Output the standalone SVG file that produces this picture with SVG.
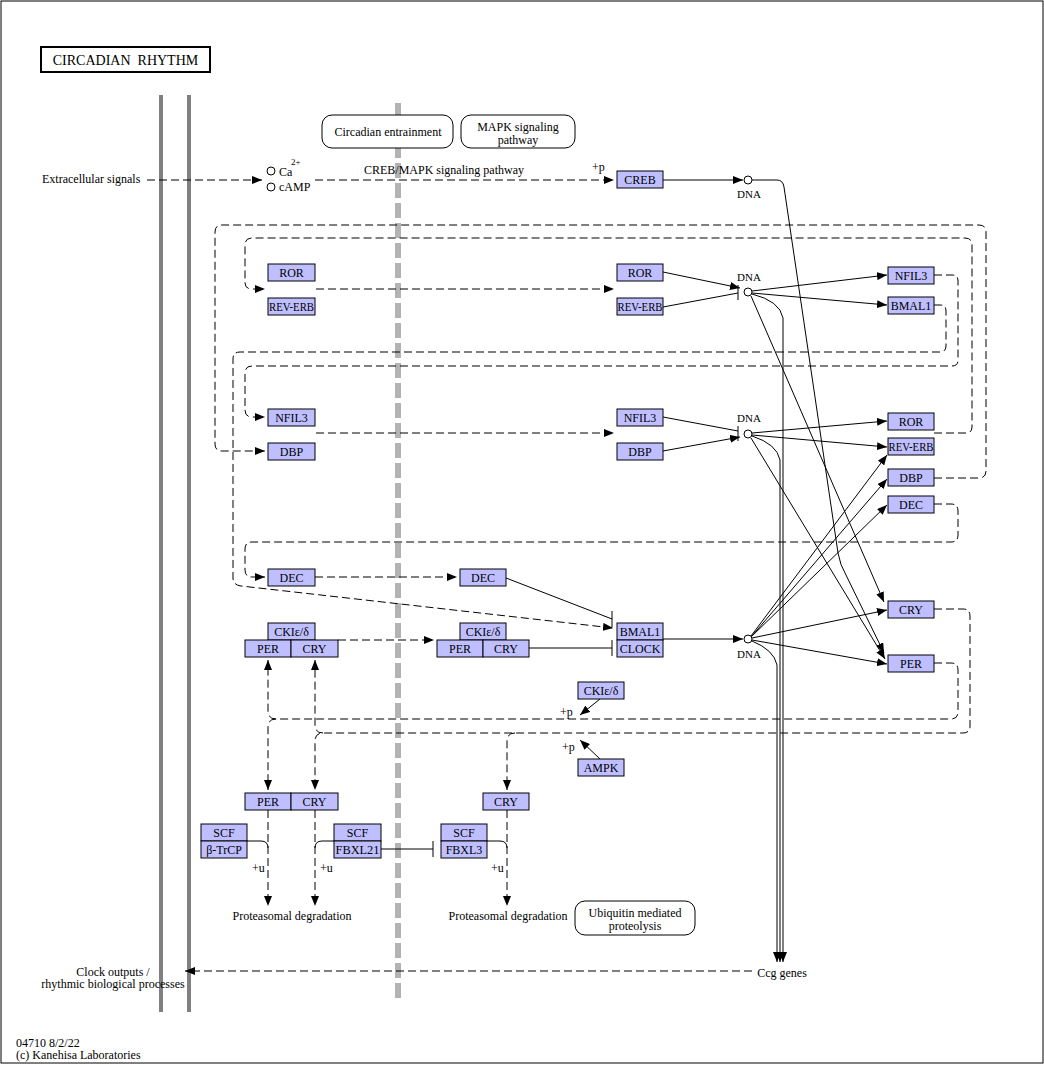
<svg xmlns="http://www.w3.org/2000/svg" width="1044" height="1065" viewBox="0 0 1044 1065">
<style>
.g{fill:#bfbfff;stroke:#000;stroke-width:1}
.t{font-family:"Liberation Serif","Times New Roman",serif;font-size:12px;text-anchor:middle;fill:#000}
.s{font-family:"Liberation Serif","Times New Roman",serif;font-size:12px;fill:#000}
.m{font-family:"Liberation Serif","Times New Roman",serif;font-size:11px;text-anchor:middle;fill:#000}
.l{fill:none;stroke:#000;stroke-width:1}
.d{fill:none;stroke:#000;stroke-width:1;stroke-dasharray:8 4}
.r{fill:#fff;stroke:#000;stroke-width:1}
.c{fill:#fff;stroke:#000;stroke-width:1}
</style>
<defs>
<marker id="a" viewBox="0 0 10 8" refX="10" refY="4" markerWidth="10" markerHeight="8" orient="auto" markerUnits="userSpaceOnUse"><path d="M0,0 L10,4 L0,8 z" fill="#000" stroke="none"/></marker>
</defs>
<rect x="0" y="0" width="1044" height="1065" fill="#fff"/>
<rect x="1" y="1" width="1042" height="1062" fill="none" stroke="#000" stroke-width="1"/>

<g id="title">
<rect x="41" y="47" width="169" height="25" fill="#fff" stroke="#000" stroke-width="2"/>
<text x="125.5" y="65" class="t" style="font-size:14px;white-space:pre">CIRCADIAN  RHYTHM</text>
</g>

<g id="membranes">
<rect x="159" y="95" width="4" height="917" fill="#808080"/>
<rect x="187" y="95" width="4" height="917" fill="#808080"/>
<line x1="398" y1="103" x2="398" y2="998" stroke="#b3b3b3" stroke-width="6" stroke-dasharray="15 5"/>
</g>

<g id="connectors">
<line x1="147" y1="180" x2="262" y2="180" class="d" marker-end="url(#a)"/>
<line x1="315" y1="180" x2="614" y2="180" class="d" marker-end="url(#a)"/>
<line x1="663" y1="180" x2="743" y2="180" class="l" marker-end="url(#a)"/>
<path d="M752,180 H777 Q783,180 784,187 L838,553 Q840,565 846,575 L884,653" class="l" marker-end="url(#a)"/>
<line x1="663" y1="272" x2="740" y2="288" class="l" marker-end="url(#a)"/>
<line x1="663" y1="307" x2="738" y2="293" class="l"/>
<line x1="738" y1="285" x2="738" y2="300" class="l"/>
<line x1="752" y1="291" x2="887" y2="275" class="l" marker-end="url(#a)"/>
<line x1="752" y1="293" x2="887" y2="305" class="l" marker-end="url(#a)"/>
<line x1="751" y1="296" x2="884" y2="602" class="l" marker-end="url(#a)"/>
<path d="M752,294 Q780,301 783,318 L783,962" class="l" marker-end="url(#a)"/>
<line x1="663" y1="417" x2="738" y2="431" class="l"/>
<line x1="738" y1="426" x2="738" y2="441" class="l"/>
<line x1="663" y1="451" x2="740" y2="437" class="l" marker-end="url(#a)"/>
<line x1="752" y1="433" x2="887" y2="421" class="l" marker-end="url(#a)"/>
<line x1="752" y1="435" x2="887" y2="447" class="l" marker-end="url(#a)"/>
<line x1="751" y1="438" x2="885" y2="659" class="l" marker-end="url(#a)"/>
<path d="M752,436 Q777,444 780,460 L780,962" class="l" marker-end="url(#a)"/>
<line x1="663" y1="639" x2="743" y2="639" class="l" marker-end="url(#a)"/>
<line x1="751" y1="636" x2="887" y2="455" class="l" marker-end="url(#a)"/>
<line x1="751" y1="637" x2="887" y2="479" class="l" marker-end="url(#a)"/>
<line x1="751" y1="637" x2="887" y2="505" class="l" marker-end="url(#a)"/>
<line x1="752" y1="638" x2="887" y2="610" class="l" marker-end="url(#a)"/>
<line x1="752" y1="640" x2="887" y2="664" class="l" marker-end="url(#a)"/>
<path d="M752,641 Q774,650 777,665 L777,962" class="l" marker-end="url(#a)"/>
<line x1="316" y1="289" x2="614" y2="289" class="d" marker-end="url(#a)"/>
<line x1="316" y1="433" x2="614" y2="433" class="d" marker-end="url(#a)"/>
<line x1="315" y1="577" x2="457" y2="577" class="d" marker-end="url(#a)"/>
<line x1="338" y1="640" x2="434" y2="640" class="d" marker-end="url(#a)"/>
<line x1="506" y1="578" x2="612" y2="619" class="l"/>
<line x1="612" y1="611" x2="612" y2="627" class="l"/>
<line x1="529" y1="648" x2="612" y2="648" class="l"/>
<line x1="612" y1="640" x2="612" y2="656" class="l"/>
<path d="M934,305 H940 Q946,305 946,311 V346 Q946,352 940,352 H240 Q233,352 233,359 V578 Q233,585 241,586 L613,628" class="d" marker-end="url(#a)"/>
<path d="M934,275 H952 Q958,275 958,281 V360 Q958,366 952,366 H252 Q245,366 245,373 V410 Q245,417 252,417 L265,417" class="d" marker-end="url(#a)"/>
<path d="M934,433 H966 Q972,433 972,427 V245 Q972,238 965,238 H252 Q245,238 245,245 V283 Q245,289 252,289 L265,289" class="d" marker-end="url(#a)"/>
<path d="M934,478 H979 Q986,478 986,471 V232 Q986,225 979,225 H222 Q215,225 215,232 V444 Q215,451 222,451 L265,451" class="d" marker-end="url(#a)"/>
<path d="M934,504 H951 Q958,504 958,511 V535 Q958,542 951,542 H252 Q245,542 245,549 V570 Q245,577 252,577 L265,577" class="d" marker-end="url(#a)"/>
<path d="M934,609 H963 Q970,609 970,616 V726 Q970,733 963,733 H323 Q315,733 315,741 V790" class="d" marker-end="url(#a)"/>
<path d="M323,733 Q315,733 315,725 V660" class="d" marker-end="url(#a)"/>
<path d="M515,733 Q507,733 507,741 V790" class="d" marker-end="url(#a)"/>
<path d="M934,663 H951 Q958,663 958,670 V712 Q958,719 951,719 H276 Q268,719 268,727 V790" class="d" marker-end="url(#a)"/>
<path d="M276,719 Q268,719 268,711 V660" class="d" marker-end="url(#a)"/>
<line x1="600" y1="699" x2="580" y2="715" class="l" marker-end="url(#a)"/>
<line x1="600" y1="759" x2="580" y2="740" class="l" marker-end="url(#a)"/>
<line x1="268" y1="810" x2="268" y2="906" class="d" marker-end="url(#a)"/>
<line x1="315" y1="810" x2="315" y2="906" class="d" marker-end="url(#a)"/>
<line x1="507" y1="810" x2="507" y2="906" class="d" marker-end="url(#a)"/>
<path d="M247,841 H261 Q268,841 268,848" class="l"/>
<path d="M334,841 H322 Q315,841 315,848" class="l"/>
<path d="M487,841 H500 Q507,841 507,848" class="l"/>
<line x1="381" y1="849" x2="433" y2="849" class="l"/>
<line x1="433" y1="841" x2="433" y2="857" class="l"/>
<line x1="752" y1="971" x2="185" y2="971" class="d" marker-end="url(#a)"/>
</g>

<g id="map-links">
<g id="circadian-entrainment"><rect x="322" y="115" width="131" height="33" rx="10" class="r"/><text x="388" y="136" class="t">Circadian entrainment</text></g>
<g id="mapk"><rect x="461" y="115" width="114" height="33" rx="10" class="r"/><text x="518" y="131" class="t">MAPK signaling</text><text x="518" y="144" class="t">pathway</text></g>
<g id="ubiquitin"><rect x="575" y="901" width="120" height="34" rx="10" class="r"/><text x="635" y="917" class="t">Ubiquitin mediated</text><text x="635" y="930" class="t">proteolysis</text></g>
</g>

<g id="compounds">
<circle cx="271" cy="171" r="4" class="c"/>
<text x="279" y="176" class="s">Ca</text><text x="291" y="165" class="s" style="font-size:9px">2+</text>
<circle cx="271" cy="187" r="4" class="c"/>
<text x="279" y="191" class="s">cAMP</text>
</g>

<g id="dna">
<g id="dna1"><circle cx="748" cy="180" r="4" class="c"/><text x="749" y="198" class="m">DNA</text></g>
<g id="dna2"><circle cx="748" cy="292" r="4" class="c"/><text x="749" y="281" class="m">DNA</text></g>
<g id="dna3"><circle cx="748" cy="434" r="4" class="c"/><text x="749" y="422" class="m">DNA</text></g>
<g id="dna4"><circle cx="748" cy="639" r="4" class="c"/><text x="749" y="658" class="m">DNA</text></g>
</g>

<g id="labels">
<text x="42" y="183" class="s">Extracellular signals</text>
<text x="444" y="174" class="t">CREB/MAPK signaling pathway</text>
<text x="592" y="171" class="s">+p</text>
<text x="560" y="716" class="s">+p</text>
<text x="562" y="751" class="s">+p</text>
<text x="252" y="872" class="s">+u</text>
<text x="320" y="872" class="s">+u</text>
<text x="491" y="872" class="s">+u</text>
<text x="292" y="920" class="t">Proteasomal degradation</text>
<text x="508" y="920" class="t">Proteasomal degradation</text>
<text x="782" y="977" class="t">Ccg genes</text>
<text x="113" y="976" class="t">Clock outputs /</text>
<text x="113" y="988" class="t">rhythmic biological processes</text>
<text x="16" y="1047" class="s">04710 8/2/22</text>
<text x="16" y="1059" class="s">(c) Kanehisa Laboratories</text>
</g>

<g id="creb"><rect x="617" y="171" width="46" height="17" class="g"/><text x="640" y="184" class="t">CREB</text></g>
<g id="ror-l"><rect x="268" y="264" width="47" height="17" class="g"/><text x="291.5" y="277" class="t">ROR</text></g>
<g id="reverb-l"><rect x="268" y="298" width="47" height="17" class="g"/><text x="291.5" y="311" class="t" textLength="45" lengthAdjust="spacingAndGlyphs">REV-ERB</text></g>
<g id="ror-m"><rect x="617" y="264" width="46" height="17" class="g"/><text x="640" y="277" class="t">ROR</text></g>
<g id="reverb-m"><rect x="617" y="298" width="46" height="17" class="g"/><text x="640" y="311" class="t" textLength="45" lengthAdjust="spacingAndGlyphs">REV-ERB</text></g>
<g id="nfil3-r"><rect x="888" y="267" width="46" height="17" class="g"/><text x="911" y="280" class="t">NFIL3</text></g>
<g id="bmal1-r"><rect x="888" y="297" width="46" height="17" class="g"/><text x="911" y="310" class="t">BMAL1</text></g>
<g id="nfil3-l"><rect x="268" y="409" width="47" height="17" class="g"/><text x="291.5" y="422" class="t">NFIL3</text></g>
<g id="dbp-l"><rect x="268" y="443" width="47" height="17" class="g"/><text x="291.5" y="456" class="t">DBP</text></g>
<g id="nfil3-m"><rect x="617" y="409" width="46" height="17" class="g"/><text x="640" y="422" class="t">NFIL3</text></g>
<g id="dbp-m"><rect x="617" y="443" width="46" height="17" class="g"/><text x="640" y="456" class="t">DBP</text></g>
<g id="ror-r"><rect x="888" y="413" width="46" height="17" class="g"/><text x="911" y="426" class="t">ROR</text></g>
<g id="reverb-r"><rect x="888" y="438" width="46" height="17" class="g"/><text x="911" y="451" class="t" textLength="45" lengthAdjust="spacingAndGlyphs">REV-ERB</text></g>
<g id="dbp-r"><rect x="888" y="469" width="46" height="17" class="g"/><text x="911" y="482" class="t">DBP</text></g>
<g id="dec-r"><rect x="888" y="496" width="46" height="17" class="g"/><text x="911" y="509" class="t">DEC</text></g>
<g id="dec-l"><rect x="268" y="569" width="47" height="17" class="g"/><text x="291.5" y="582" class="t">DEC</text></g>
<g id="dec-m"><rect x="460" y="569" width="46" height="17" class="g"/><text x="483" y="582" class="t">DEC</text></g>
<g id="complex-l">
<rect x="268" y="623" width="47" height="17" class="g"/><text x="291.5" y="636" class="t">CKIε/δ</text>
<rect x="245" y="640" width="46" height="17" class="g"/><text x="268" y="653" class="t">PER</text>
<rect x="291" y="640" width="47" height="17" class="g"/><text x="314.5" y="653" class="t">CRY</text>
</g>
<g id="complex-m">
<rect x="460" y="623" width="46" height="17" class="g"/><text x="483" y="636" class="t">CKIε/δ</text>
<rect x="437" y="640" width="46" height="17" class="g"/><text x="460" y="653" class="t">PER</text>
<rect x="483" y="640" width="46" height="17" class="g"/><text x="506" y="653" class="t">CRY</text>
</g>
<g id="bmal1-clock">
<rect x="617" y="623" width="46" height="17" class="g"/><text x="640" y="636" class="t">BMAL1</text>
<rect x="617" y="640" width="46" height="17" class="g"/><text x="640" y="653" class="t">CLOCK</text>
</g>
<g id="cry-r"><rect x="888" y="601" width="46" height="17" class="g"/><text x="911" y="614" class="t">CRY</text></g>
<g id="per-r"><rect x="888" y="655" width="46" height="17" class="g"/><text x="911" y="668" class="t">PER</text></g>
<g id="cki-low"><rect x="578" y="682" width="46" height="17" class="g"/><text x="601" y="695" class="t">CKIε/δ</text></g>
<g id="ampk"><rect x="578" y="759" width="46" height="17" class="g"/><text x="601" y="772" class="t">AMPK</text></g>
<g id="per-d"><rect x="245" y="793" width="46" height="17" class="g"/><text x="268" y="806" class="t">PER</text></g>
<g id="cry-d"><rect x="291" y="793" width="47" height="17" class="g"/><text x="314.5" y="806" class="t">CRY</text></g>
<g id="cry-d2"><rect x="483" y="793" width="46" height="17" class="g"/><text x="506" y="806" class="t">CRY</text></g>
<g id="scf-btrcp">
<rect x="201" y="824" width="46" height="17" class="g"/><text x="224" y="837" class="t">SCF</text>
<rect x="201" y="841" width="46" height="17" class="g"/><text x="224" y="854" class="t">β-TrCP</text>
</g>
<g id="scf-fbxl21">
<rect x="334" y="824" width="47" height="17" class="g"/><text x="357.5" y="837" class="t">SCF</text>
<rect x="334" y="841" width="47" height="17" class="g"/><text x="357.5" y="854" class="t" textLength="44" lengthAdjust="spacingAndGlyphs">FBXL21</text>
</g>
<g id="scf-fbxl3">
<rect x="441" y="824" width="46" height="17" class="g"/><text x="464" y="837" class="t">SCF</text>
<rect x="441" y="841" width="46" height="17" class="g"/><text x="464" y="854" class="t">FBXL3</text>
</g>
</svg>
